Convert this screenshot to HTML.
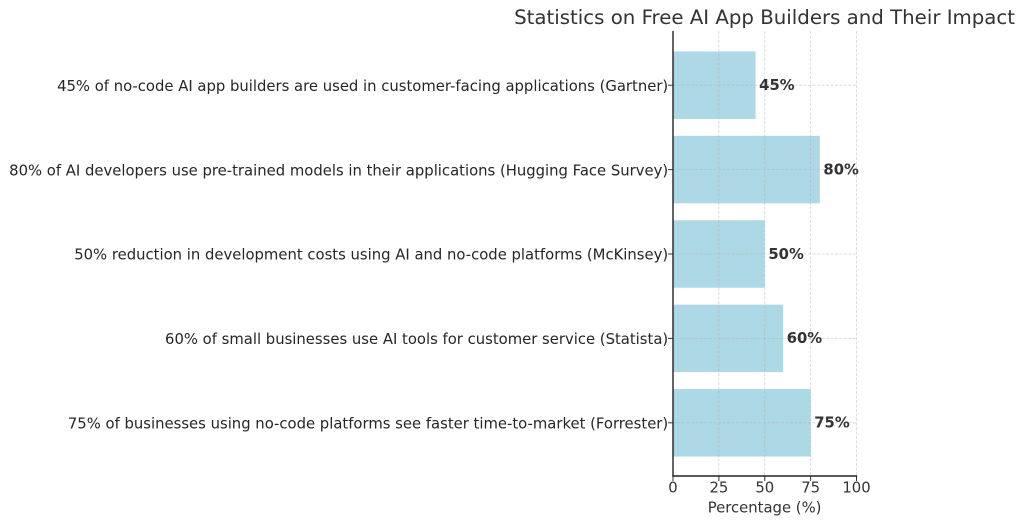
<!DOCTYPE html>
<html>
<head>
<meta charset="utf-8">
<style>
html,body{margin:0;padding:0;background:#fff;width:1024px;height:524px;overflow:hidden}
svg{display:block;font-family:"DejaVu Sans","Liberation Sans",sans-serif}
</style>
</head>
<body>
<svg id="chart" width="1024" height="524" viewBox="0 0 1024 524" xmlns="http://www.w3.org/2000/svg"></svg>
<script>
const chartTitle = "Statistics on Free AI App Builders and Their Impact";
const xAxisTitle = "Percentage (%)";
const categories = [
  "45% of no-code AI app builders are used in customer-facing applications (Gartner)",
  "80% of AI developers use pre-trained models in their applications (Hugging Face Survey)",
  "50% reduction in development costs using AI and no-code platforms (McKinsey)",
  "60% of small businesses use AI tools for customer service (Statista)",
  "75% of businesses using no-code platforms see faster time-to-market (Forrester)"
];
const values = [45, 80, 50, 60, 75];
const xTicks = [0, 25, 50, 75, 100];

const svg = document.getElementById('chart');
const NS = 'http://www.w3.org/2000/svg';
const plot = {left: 673, right: 856.5, top: 31, bottom: 476};
const firstCenter = 85.2;
const bandStep = 84.4;
const barHeight = 67.5;
const labelSize = 14.82;
function xScale(v) { return plot.left + (v / 100) * (plot.right - plot.left); }
function yScale(i) { return firstCenter + i * bandStep; }
function make(tag, attrs, text) {
  const el = document.createElementNS(NS, tag);
  for (const k in attrs) el.setAttribute(k, attrs[k]);
  if (text !== undefined) el.textContent = text;
  svg.appendChild(el);
  return el;
}

categories.forEach(function (c, i) {
  const bar = make('rect', {x: xScale(0), y: yScale(i) - barHeight / 2, width: xScale(values[i]) - xScale(0), height: barHeight, fill: '#add8e6'});
  
  
});

xTicks.forEach(function (t) {
  const g = make('line', {x1: xScale(t), x2: xScale(t), y1: plot.top, y2: plot.bottom, stroke: '#b0b0b0', 'stroke-opacity': 0.55, 'stroke-width': 0.8, 'stroke-dasharray': '3 1.5'});
  
  
  const m = make('line', {x1: xScale(t), x2: xScale(t), y1: plot.bottom, y2: plot.bottom + 5, stroke: '#333', 'stroke-width': 1});
  
  
  const l = make('text', {x: xScale(t), y: plot.bottom + 16.4, 'text-anchor': 'middle', 'font-size': labelSize, fill: '#333'}, String(t));
  
  
});

categories.forEach(function (c, i) {
  const g = make('line', {x1: plot.left, x2: plot.right, y1: yScale(i), y2: yScale(i), stroke: '#b0b0b0', 'stroke-opacity': 0.55, 'stroke-width': 0.8, 'stroke-dasharray': '3 1.5'});
  
  
  const m = make('line', {x1: plot.left - 5, x2: plot.left, y1: yScale(i), y2: yScale(i), stroke: '#333', 'stroke-width': 1});
  
  
  const l = make('text', {x: plot.left - 4.8, y: yScale(i) + 5.7, 'text-anchor': 'end', 'font-size': labelSize, fill: '#262626'}, c);
  
  
  const v = make('text', {x: xScale(values[i]) + 3.6, y: yScale(i) + 4.8, 'font-size': labelSize, 'font-weight': 'bold', fill: '#333'}, values[i] + '%');
  
  
});

const leftSpine = make('line', {x1: plot.left, x2: plot.left, y1: plot.top, y2: plot.bottom, stroke: '#222', 'stroke-width': 1.4});


const bottomSpine = make('line', {x1: plot.left - 0.7, x2: plot.right + 0.7, y1: plot.bottom, y2: plot.bottom, stroke: '#222', 'stroke-width': 1.4});



const titleEl = make('text', {x: 764.6, y: 24, 'text-anchor': 'middle', 'font-size': 19.76, fill: '#333'}, chartTitle);


const xTitleEl = make('text', {x: 764.6, y: 512.3, 'text-anchor': 'middle', 'font-size': labelSize, fill: '#333'}, xAxisTitle);


</script>
</body>
</html>
